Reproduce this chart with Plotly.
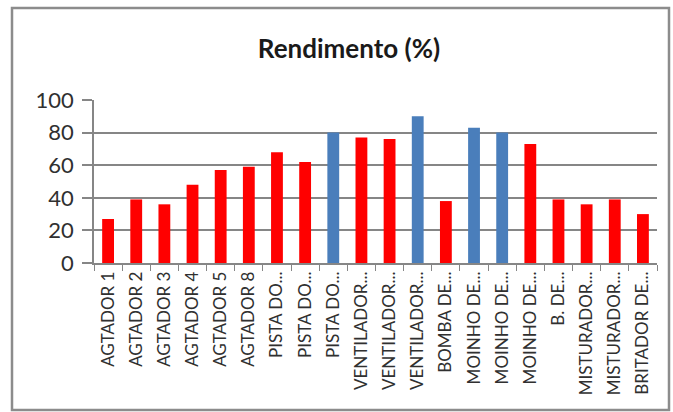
import plotly.graph_objects as go

# Equipamentos e rendimento (%)
equipamentos = [
    "AGTADOR 1", "AGTADOR 2", "AGTADOR 3", "AGTADOR 4", "AGTADOR 5", "AGTADOR 8",
    "PISTA DO...", "PISTA DO...", "PISTA DO...",
    "VENTILADOR...", "VENTILADOR...", "VENTILADOR...",
    "BOMBA DE...", "MOINHO DE...", "MOINHO DE...", "MOINHO DE...",
    "B. DE...", "MISTURADOR...", "MISTURADOR...", "BRITADOR DE...",
]
rendimento = [27, 39, 36, 48, 57, 59, 68, 62, 80, 77, 76, 90, 38, 83, 80, 73, 39, 36, 39, 30]
# Equipamentos com rendimento de referência (destacados em azul)
destaque = [8, 11, 13, 14]

VERMELHO = "#FF0000"
AZUL = "#4A7EBB"
CINZA = "#868686"
TEXTO = "#303030"
FONTE = "Lato"

W, H = 673, 412
ML, MR, MT, MB = 94, 16, 100, 149

x = list(range(len(equipamentos)))
cores = [AZUL if i in destaque else VERMELHO for i in x]

fig = go.Figure(
    go.Bar(
        x=x,
        y=rendimento,
        marker=dict(color=cores, line=dict(width=0)),
        width=0.42,
        hoverinfo="y",
    )
)

pw, ph = W - ML - MR, H - MT - MB


def px_x(v):
    return (v - ML) / pw


def px_y(v):
    return 1 - (v - MT) / ph


# Moldura do gráfico
fig.add_shape(
    type="rect", xref="paper", yref="paper",
    x0=px_x(12), x1=px_x(669), y0=px_y(410), y1=px_y(8),
    line=dict(color="#8C8C8C", width=2.5), layer="below",
)

fig.update_layout(
    width=W, height=H,
    margin=dict(l=ML, r=MR, t=MT, b=MB, pad=0),
    paper_bgcolor="white", plot_bgcolor="white",
    showlegend=False,
    title=dict(
        text="<b>Rendimento (%)</b>",
        x=349 / W, xanchor="center", xref="container",
        y=1 - 49 / H, yanchor="middle", yref="container",
        font=dict(family=FONTE, size=26, color="#1a1a1a"),
    ),
    font=dict(family=FONTE, color=TEXTO),
)

fig.update_xaxes(
    range=[-0.5, len(equipamentos) - 0.5],
    tickmode="array", tickvals=x, ticktext=equipamentos,
    tickangle=-90, ticks="", ticklen=0,
    tickfont=dict(family=FONTE, size=17, color=TEXTO),
    showline=True, linecolor=CINZA, linewidth=1.5,
    showgrid=False, zeroline=False,
    minor=dict(ticks="outside", tick0=-0.5, dtick=1, ticklen=6,
               tickcolor=CINZA, tickwidth=1, showgrid=False),
)
fig.update_yaxes(
    range=[0, 100], tickmode="linear", tick0=0, dtick=20,
    ticks="outside", ticklen=10, tickcolor=CINZA, tickwidth=1.5,
    ticklabelstandoff=4,
    tickfont=dict(family=FONTE, size=22, color=TEXTO),
    showline=True, linecolor=CINZA, linewidth=1.5,
    showgrid=True, gridcolor=CINZA, gridwidth=1.5,
    zeroline=False,
)

fig.write_html("out.html")
